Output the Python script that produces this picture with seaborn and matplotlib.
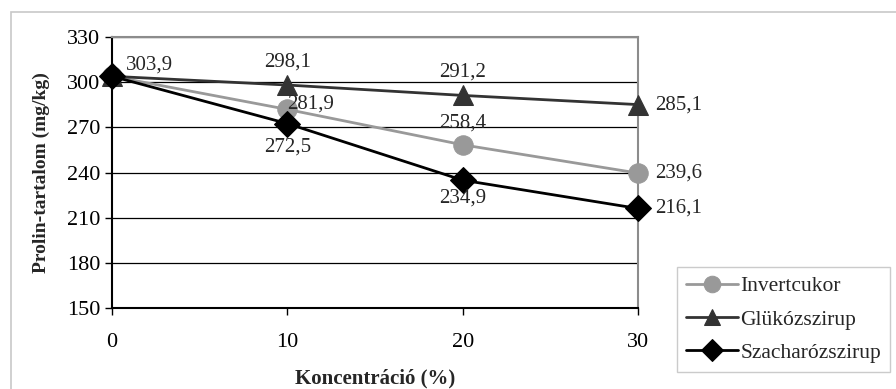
import matplotlib
matplotlib.use("Agg")
import matplotlib.pyplot as plt
import matplotlib.patches as mpatches
import seaborn as sns
import pandas as pd

concentrations = [0, 10, 20, 30]
invertcukor = [303.9, 281.9, 258.4, 239.6]
glukozszirup = [303.9, 298.1, 291.2, 285.1]
szacharozszirup = [303.9, 272.5, 234.9, 216.1]
series_names = ["Invertcukor", "Glükózszirup", "Szacharózszirup"]
yticks = [150, 180, 210, 240, 270, 300, 330]

df = pd.DataFrame({
    "x": concentrations * 3,
    "y": invertcukor + glukozszirup + szacharozszirup,
    "series": [series_names[0]] * 4 + [series_names[1]] * 4 + [series_names[2]] * 4,
})

sns.set_theme(style="white")
plt.rcParams["font.family"] = ["Liberation Serif", "DejaVu Serif"]

fig = plt.figure(figsize=(8.96, 3.89), dpi=100)
ax = fig.add_axes([112 / 896, 1 - 308 / 389, (638 - 112) / 896, (308 - 37) / 389])

palette = {series_names[0]: "#999999", series_names[1]: "#333333", series_names[2]: "#000000"}
markers = {series_names[0]: "o", series_names[1]: "^", series_names[2]: "D"}
msizes = {series_names[0]: 14, series_names[1]: 14, series_names[2]: 13}

for name in series_names:
    sub = df[df["series"] == name]
    sns.lineplot(data=sub, x="x", y="y", ax=ax, color=palette[name], marker=markers[name],
                 markersize=msizes[name],
                 markeredgecolor=palette[name], linewidth=2, label=name, legend=False,
                 zorder=3)

ax.set_xlim(0, 30)
ax.set_ylim(150, 330)
ax.set_xticks(concentrations)
ax.set_yticks(yticks)
ax.set_xticklabels([str(c) for c in concentrations])
ax.set_yticklabels([str(v) for v in yticks])
ax.tick_params(axis="both", labelsize=16, colors="black", length=5, width=1)
ax.tick_params(axis="x", pad=13, direction="out", bottom=True)
ax.tick_params(axis="y", direction="out", left=True)
ax.yaxis.grid(True, color="black", linewidth=0.9)
ax.set_axisbelow(True)
for s in ["left", "bottom"]:
    ax.spines[s].set_color("black")
    ax.spines[s].set_linewidth(1.5)
for s in ["top", "right"]:
    ax.spines[s].set_color("#8c8c8c")
    ax.spines[s].set_linewidth(1.5)
for line in ax.get_lines():
    line.set_clip_on(False)

ax.set_xlabel("Koncentráció (%)", fontsize=15, fontweight="bold", labelpad=12)
ax.set_ylabel("Prolin-tartalom (mg/kg)", fontsize=14, fontweight="bold", labelpad=12)

def fmt(v):
    return f"{v:.1f}".replace(".", ",")

fs = 15
ax.annotate(fmt(invertcukor[0]), (0, 303.9), xytext=(10, 1), textcoords="offset points", fontsize=fs, va="bottom", ha="left")
ax.annotate(fmt(glukozszirup[1]), (10, glukozszirup[1]), xytext=(0, 10), textcoords="offset points", fontsize=fs, va="bottom", ha="center")
ax.annotate(fmt(invertcukor[1]), (10, invertcukor[1]), xytext=(0, 4), textcoords="offset points", fontsize=fs, va="center", ha="left")
ax.annotate(fmt(szacharozszirup[1]), (10, szacharozszirup[1]), xytext=(0, -10), textcoords="offset points", fontsize=fs, va="top", ha="center")
ax.annotate(fmt(glukozszirup[2]), (20, glukozszirup[2]), xytext=(0, 10), textcoords="offset points", fontsize=fs, va="bottom", ha="center")
ax.annotate(fmt(invertcukor[2]), (20, invertcukor[2]), xytext=(0, 9), textcoords="offset points", fontsize=fs, va="bottom", ha="center")
ax.annotate(fmt(szacharozszirup[2]), (20, szacharozszirup[2]), xytext=(0, -6), textcoords="offset points", fontsize=fs, va="top", ha="center")
for vals in [glukozszirup, invertcukor, szacharozszirup]:
    ax.annotate(fmt(vals[3]), (30, vals[3]), xytext=(12, 0), textcoords="offset points", fontsize=fs, va="center", ha="left")

handles, labels = ax.get_legend_handles_labels()
leg = fig.legend(handles, labels, loc="upper left",
                 bbox_to_anchor=(677 / 896, 1 - 267 / 389),
                 fontsize=15.5, frameon=True, fancybox=False,
                 edgecolor="#bfbfbf", handlelength=2.4, handletextpad=0.12,
                 borderaxespad=0, borderpad=0.42, labelspacing=0.62, markerscale=0.85)
leg.get_frame().set_linewidth(1)

fig.patches.append(mpatches.Rectangle((10.5 / 896, -0.1), 1.0, 1 - 12 / 389 + 0.1,
                                      transform=fig.transFigure, fill=False,
                                      edgecolor="#c8c8c8", linewidth=1.2))

fig.savefig("out.png", dpi=100)
